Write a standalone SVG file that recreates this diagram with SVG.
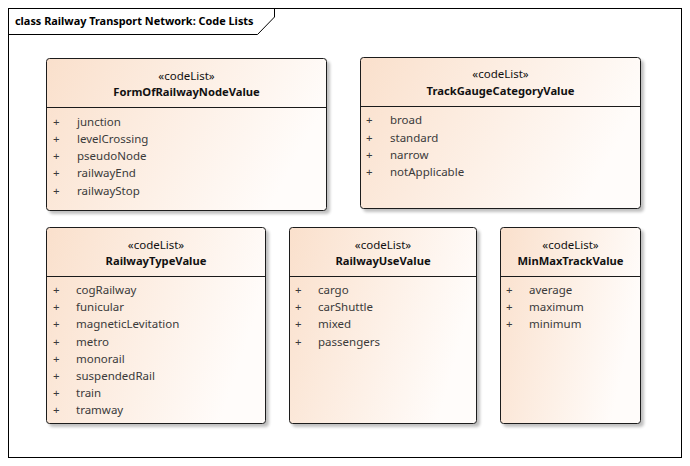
<svg xmlns="http://www.w3.org/2000/svg" width="690" height="466" viewBox="0 0 690 466">
<defs>
<linearGradient id="g" x1="0" y1="0" x2="1" y2="0.3">
<stop offset="0" stop-color="#fae0cc"/>
<stop offset="1" stop-color="#fffcfa"/>
</linearGradient>
<filter id="sh" x="-5%" y="-5%" width="115%" height="115%">
<feGaussianBlur in="SourceAlpha" stdDeviation="1.5"/>
<feOffset dx="3" dy="3"/>
<feComponentTransfer><feFuncA type="linear" slope="0.25"/></feComponentTransfer>
<feMerge><feMergeNode/><feMergeNode in="SourceGraphic"/></feMerge>
</filter>
</defs>
<style>
.box{fill:url(#g);stroke:#1a1a1a;stroke-width:1;filter:url(#sh)}
.div{stroke:#1a1a1a;stroke-width:1}
text{font-family:"Noto Sans","Open Sans",sans-serif;font-size:11.5px}
.st{fill:#111;text-anchor:middle}
.nm{fill:#111;font-weight:bold;text-anchor:middle;font-size:11.2px}
.at{fill:#3a3a3a}
.ttl{fill:#000;font-weight:bold;font-size:10.9px}
</style>
<rect x="0" y="0" width="690" height="466" fill="#fff"/>
<g id="frame">
<rect x="8.5" y="8.5" width="673" height="449" fill="none" stroke="#000"/>
<path d="M8.5 34.5 H257.5 L274.5 17 V8.5" fill="none" stroke="#000"/>
<text class="ttl" x="15" y="25">class Railway Transport Network: Code Lists</text>
</g>
<g id="FormOfRailwayNodeValue">
<rect class="box" x="46.5" y="58.5" width="280" height="152" rx="3"/>
<line class="div" x1="46.5" y1="107.5" x2="326.5" y2="107.5"/>
<text class="st" x="186.5" y="80">«codeList»</text>
<text class="nm" x="186.5" y="96">FormOfRailwayNodeValue</text>
<text class="at" x="53" y="126">+</text><text class="at" x="77" y="126">junction</text>
<text class="at" x="53" y="143">+</text><text class="at" x="77" y="143">levelCrossing</text>
<text class="at" x="53" y="160">+</text><text class="at" x="77" y="160">pseudoNode</text>
<text class="at" x="53" y="177">+</text><text class="at" x="77" y="177">railwayEnd</text>
<text class="at" x="53" y="195">+</text><text class="at" x="77" y="195">railwayStop</text>
</g>
<g id="TrackGaugeCategoryValue">
<rect class="box" x="360.5" y="57.5" width="280" height="151" rx="3"/>
<line class="div" x1="360.5" y1="106.5" x2="640.5" y2="106.5"/>
<text class="st" x="500.5" y="78">«codeList»</text>
<text class="nm" x="500.5" y="95">TrackGaugeCategoryValue</text>
<text class="at" x="366" y="124">+</text><text class="at" x="390" y="124">broad</text>
<text class="at" x="366" y="142">+</text><text class="at" x="390" y="142">standard</text>
<text class="at" x="366" y="159">+</text><text class="at" x="390" y="159">narrow</text>
<text class="at" x="366" y="176">+</text><text class="at" x="390" y="176">notApplicable</text>
</g>
<g id="RailwayTypeValue">
<rect class="box" x="46.5" y="227.5" width="219" height="196" rx="3"/>
<line class="div" x1="46.5" y1="276.5" x2="265.5" y2="276.5"/>
<text class="st" x="156" y="249">«codeList»</text>
<text class="nm" x="156" y="265">RailwayTypeValue</text>
<text class="at" x="53" y="294">+</text><text class="at" x="76" y="294">cogRailway</text>
<text class="at" x="53" y="311">+</text><text class="at" x="76" y="311">funicular</text>
<text class="at" x="53" y="328">+</text><text class="at" x="76" y="328">magneticLevitation</text>
<text class="at" x="53" y="346">+</text><text class="at" x="76" y="346">metro</text>
<text class="at" x="53" y="363">+</text><text class="at" x="76" y="363">monorail</text>
<text class="at" x="53" y="380">+</text><text class="at" x="76" y="380">suspendedRail</text>
<text class="at" x="53" y="397">+</text><text class="at" x="76" y="397">train</text>
<text class="at" x="53" y="414">+</text><text class="at" x="76" y="414">tramway</text>
</g>
<g id="RailwayUseValue">
<rect class="box" x="289.5" y="227.5" width="187" height="196" rx="3"/>
<line class="div" x1="289.5" y1="276.5" x2="476.5" y2="276.5"/>
<text class="st" x="383" y="249">«codeList»</text>
<text class="nm" x="383" y="265">RailwayUseValue</text>
<text class="at" x="295" y="294">+</text><text class="at" x="318" y="294">cargo</text>
<text class="at" x="295" y="311">+</text><text class="at" x="318" y="311">carShuttle</text>
<text class="at" x="295" y="328">+</text><text class="at" x="318" y="328">mixed</text>
<text class="at" x="295" y="346">+</text><text class="at" x="318" y="346">passengers</text>
</g>
<g id="MinMaxTrackValue">
<rect class="box" x="500.5" y="227.5" width="140" height="196" rx="3"/>
<line class="div" x1="500.5" y1="276.5" x2="640.5" y2="276.5"/>
<text class="st" x="570.5" y="249">«codeList»</text>
<text class="nm" x="570.5" y="265">MinMaxTrackValue</text>
<text class="at" x="506" y="294">+</text><text class="at" x="529" y="294">average</text>
<text class="at" x="506" y="311">+</text><text class="at" x="529" y="311">maximum</text>
<text class="at" x="506" y="328">+</text><text class="at" x="529" y="328">minimum</text>
</g>
<g id="connectors"></g>
</svg>
